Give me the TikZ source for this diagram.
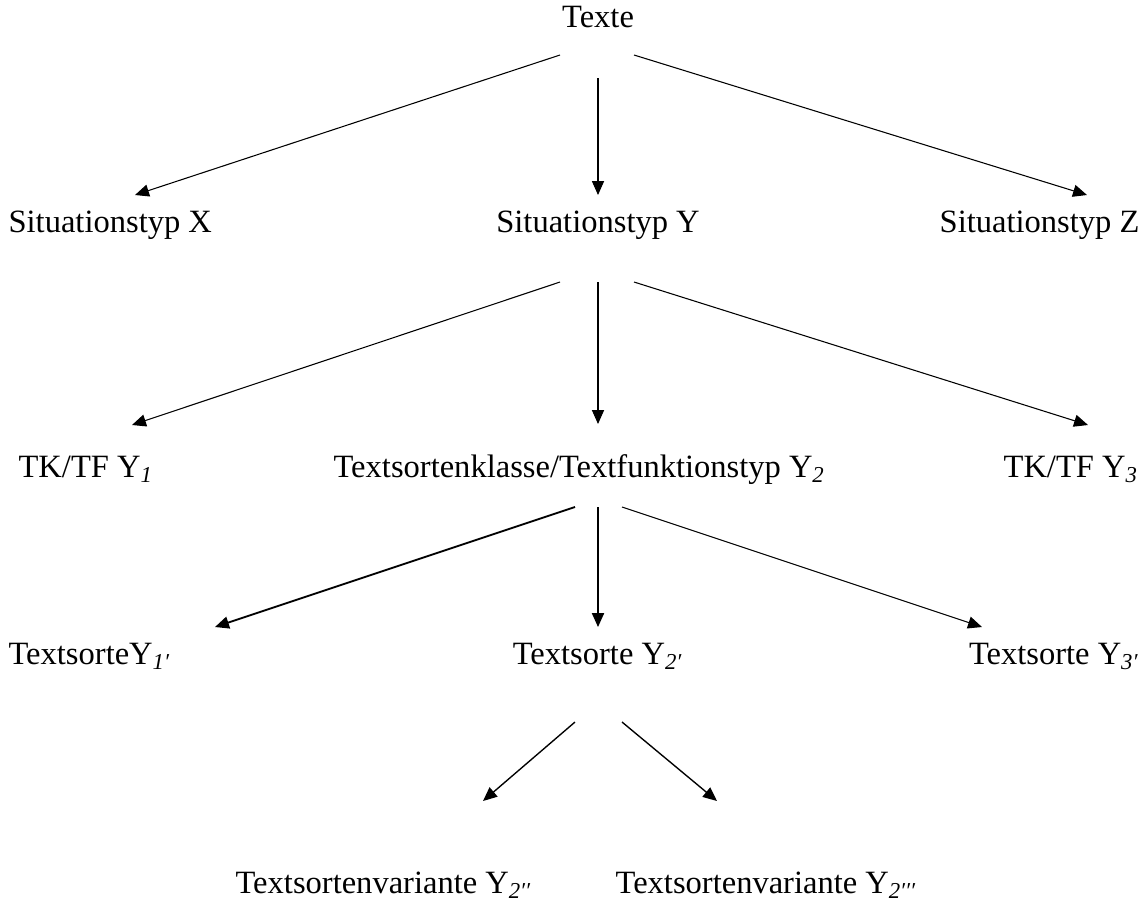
\documentclass[tikz,border=0pt]{standalone}
\usepackage{fontspec}
\setmainfont{Liberation Serif}
\usetikzlibrary{arrows.meta}
\newcommand{\sub}[1]{\textsubscript{\textit{#1}}}
\begin{document}
\begin{tikzpicture}[x=0.3289pt,y=-0.3289pt,
  lbl/.style={inner sep=0pt,anchor=base,font=\fontsize{10.7}{13}\selectfont},
  arr/.style={line width=0.35pt,-{Triangle[length=4.6pt,width=4pt]}}]
\useasboundingbox (0,0) rectangle (1147,900);
% level 0
\node[lbl] (texte) at (598,27) {Texte};
% level 1
\node[lbl,anchor=base west] (sx) at (8,232) {Situationstyp X};
\node[lbl] (sy) at (598,232) {Situationstyp Y};
\node[lbl,anchor=base east] (sz) at (1140,232) {Situationstyp Z};
% level 2
\node[lbl,anchor=base west] (tk1) at (18,477) {TK/TF Y\sub{1}};
\node[lbl,anchor=base west] (tk2) at (333,477) {Textsortenklasse/Textfunktionstyp Y\sub{2}};
\node[lbl,anchor=base west] (tk3) at (1003,477) {TK/TF Y\sub{3}};
% level 3
\node[lbl,anchor=base west] (ts1) at (8,664) {TextsorteY\sub{1′}};
\node[lbl] (ts2) at (598,664) {Textsorte Y\sub{2′}};
\node[lbl,anchor=base east] (ts3) at (1140,664) {Textsorte Y\sub{3′}};
% level 4
\node[lbl,anchor=base west] (tv1) at (235,893) {Textsortenvariante Y\sub{2′′}};
\node[lbl,anchor=base west] (tv2) at (615,893) {Textsortenvariante Y\sub{2′′′}};
% connector end points
\coordinate (texte-l) at (560,55);
\coordinate (texte-m) at (598,78);
\coordinate (texte-r) at (634,55);
\coordinate (sx-in) at (135,195);
\coordinate (sy-in) at (598,195);
\coordinate (sz-in) at (1087,195);
\coordinate (sy-l) at (560,282);
\coordinate (sy-m) at (598,282);
\coordinate (sy-r) at (634,282);
\coordinate (tk1-in) at (132,425);
\coordinate (tk2-in) at (598,424);
\coordinate (tk3-in) at (1088,425);
\coordinate (tk2-l) at (575,507);
\coordinate (tk2-m) at (598,507);
\coordinate (tk2-r) at (622,507);
\coordinate (ts1-in) at (215,627);
\coordinate (ts2-in) at (598,627);
\coordinate (ts3-in) at (982,627);
\coordinate (ts2-l) at (575,722);
\coordinate (ts2-r) at (622,722);
\coordinate (tv1-in) at (483,801);
\coordinate (tv2-in) at (717,801);
% connectors
\draw[arr] (texte-l) -- (sx-in);
\draw[arr] (texte-m) -- (sy-in);
\draw[arr] (texte-r) -- (sz-in);
\draw[arr] (sy-l) -- (tk1-in);
\draw[arr] (sy-m) -- (tk2-in);
\draw[arr] (sy-r) -- (tk3-in);
\draw[arr,line width=0.6pt] (tk2-l) -- (ts1-in);
\draw[arr,line width=0.5pt] (tk2-m) -- (ts2-in);
\draw[arr] (tk2-r) -- (ts3-in);
\draw[arr,line width=0.45pt] (ts2-l) -- (tv1-in);
\draw[arr,line width=0.45pt] (ts2-r) -- (tv2-in);
\end{tikzpicture}
\end{document}
